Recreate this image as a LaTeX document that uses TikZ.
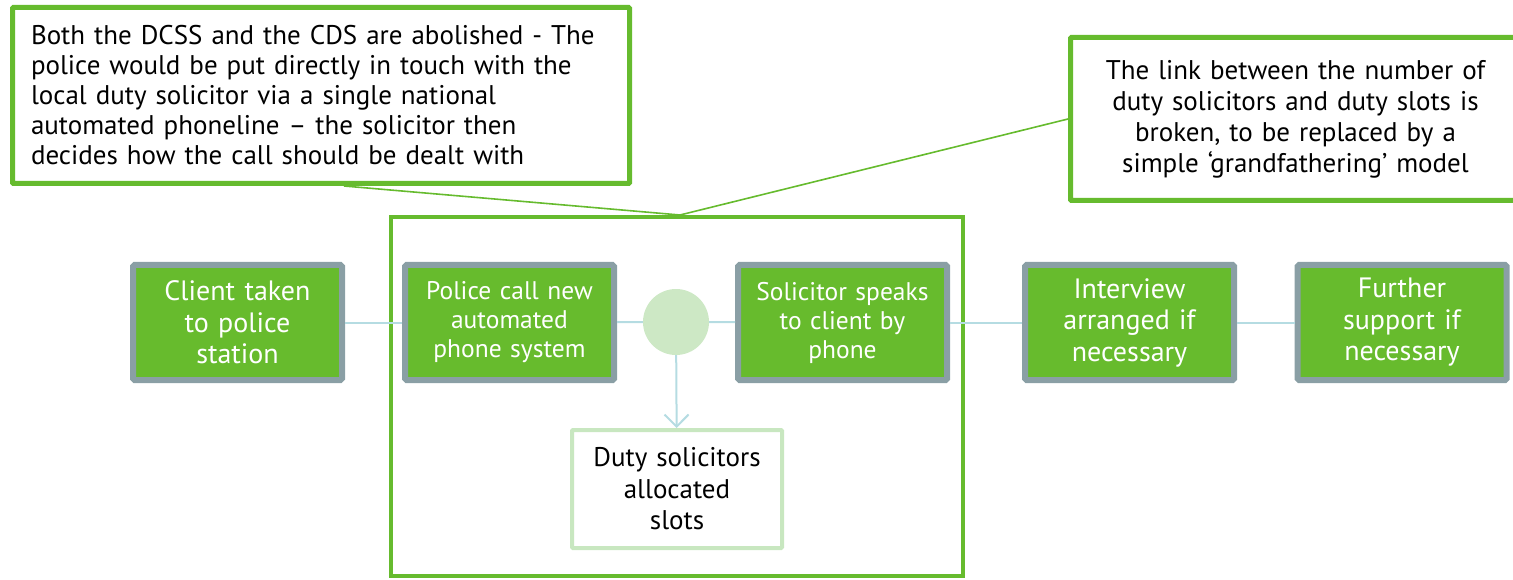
\documentclass[tikz,border=0pt]{standalone}
\usepackage{fontspec}
\setmainfont{PT Sans}
\usetikzlibrary{arrows.meta}
\definecolor{gfill}{HTML}{67BB2D}
\definecolor{gbord}{HTML}{8A9FA5}
\definecolor{lblue}{HTML}{B5DCE2}
\definecolor{lgreen}{HTML}{C8E7C0}
\definecolor{hubc}{HTML}{CDE8C5}
\definecolor{cgreen}{HTML}{66BB2E}
\begin{document}
\begin{tikzpicture}[x=1pt,y=-1pt,
  stepbox/.style={draw=gbord, line width=6pt, fill=gfill, rounded corners=1.5pt,
    minimum width=209pt, minimum height=115pt, text width=205pt, align=center,
    text=white, font=\fontsize{28}{31.5}\selectfont, inner sep=0pt},
  smallstep/.style={stepbox, font=\fontsize{25.5}{29}\selectfont},
  callout/.style={draw=cgreen, line width=5pt, fill=white, rounded corners=1pt,
    inner sep=0pt, text=black, font=\fontsize{27}{30}\selectfont},
  link/.style={draw=lblue, line width=2pt},
  pointer/.style={draw=cgreen, line width=1.6pt}]
\useasboundingbox (0,0) rectangle (1513,580);
% big grouping box
\node[draw=cgreen, line width=4pt, minimum width=572pt, minimum height=359pt, inner sep=0pt] (group) at (677,396.5) {};
% callouts
\node[callout, minimum width=617pt, minimum height=176pt, text width=580pt, align=left] (c1) at (321,95.5)
  {Both the DCSS and the CDS are abolished - The\\police would be put directly in touch with the\\local duty solicitor via a single national\\automated phoneline – the solicitor then\\decides how the call should be dealt with};
\node[callout, minimum width=450pt, minimum height=163pt, text width=430pt, align=center, font=\fontsize{27}{31}\selectfont] (c2) at (1295.5,119)
  {The link between the number of\\duty solicitors and duty slots is\\broken, to be replaced by a\\simple ‘grandfathering’ model};
\coordinate (join) at ([xshift=3pt]group.north);
\draw[pointer] ([xshift=23pt]c1.south) -- (join);
\draw[pointer] (c2.west) -- (join);
% steps
\node[stepbox] (client) at (237.5,322.5) {Client taken\\to police\\station};
\node[smallstep] (police) at (509.5,322.5) {Police call new\\automated\\phone system};
\node[circle, fill=hubc, minimum size=66pt, inner sep=0pt] (hub) at (676,322) {};
\node[smallstep] (solic) at (842.5,322.5) {Solicitor speaks\\to client by\\phone};
\node[stepbox] (interv) at (1129.5,322.5) {Interview\\arranged if\\necessary};
\node[stepbox] (further) at (1402,322.5) {Further\\support if\\necessary};
\node[draw=lgreen, line width=4pt, fill=white, rounded corners=1pt, minimum width=210pt, minimum height=118pt,
  text width=205pt, align=center, inner sep=0pt, font=\fontsize{27}{31.5}\selectfont] (duty) at (677,489)
  {Duty solicitors\\allocated\\slots};
% connectors
\draw[link] (client) -- (police);
\draw[link] (police) -- (hub);
\draw[link] (hub) -- (solic);
\draw[link] (solic) -- (interv);
\draw[link] (interv) -- (further);
\draw[link, -{Straight Barb[length=12pt,width=24pt]}] (hub) -- (duty);
\end{tikzpicture}
\end{document}
